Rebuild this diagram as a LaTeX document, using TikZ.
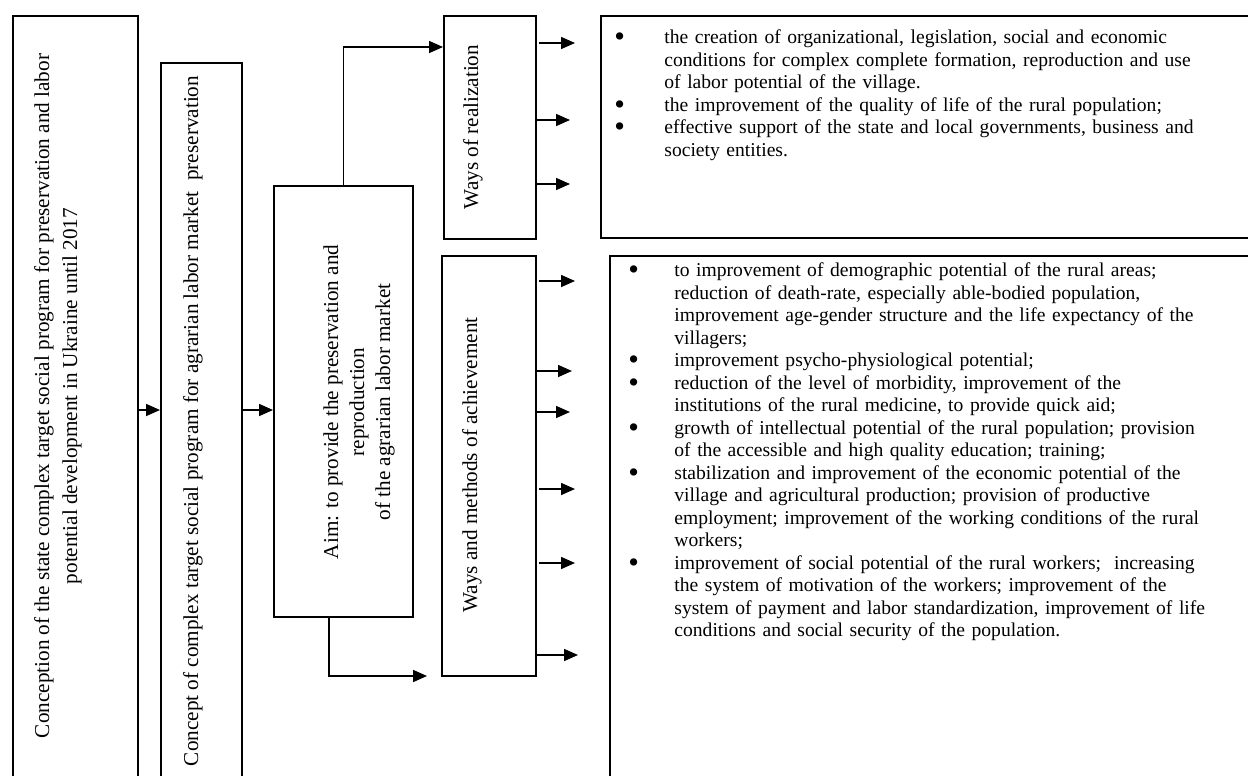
\documentclass[tikz,border=0pt]{standalone}
\usepackage{fontspec}
\setmainfont{Liberation Serif}
\usetikzlibrary{arrows.meta}
\newcommand{\bulitem}[1]{\par\hangindent=#1\hangafter=1\noindent\makebox[#1][l]{\smash{\raisebox{-0.3ex}{\scalebox{1.55}{\textbullet}}}}}
\newcommand{\nl}{\hfil\break}
\tikzset{
  box/.style={draw, line width=1.1pt, inner sep=0pt, anchor=north west},
  thinbox/.style={draw, line width=0.8pt, inner sep=0pt, anchor=north west},
  lbl/.style={rotate=90, inner sep=0pt, align=center, font=\fontsize{10.6pt}{13pt}\selectfont},
  rtext/.style={inner sep=0pt, anchor=north west, text width=330pt, align=left,
    font=\fontsize{9.8pt}{11.25pt}\selectfont},
  arr/.style={line width=0.8pt, -{Triangle[length=7pt,width=6pt]}}
}
\begin{document}
\begin{tikzpicture}[x=0.5pt, y=-0.5pt]
\useasboundingbox (0,0) rectangle (1248,776);
\clip (0,0) rectangle (1248,776);
% boxes
\node[box, minimum width=62.5pt, minimum height=387.5pt] (b1) at (12,15) {};
\node[box, minimum width=40.5pt, minimum height=364pt] (b2) at (160,62) {};
\node[thinbox, minimum width=69.5pt, minimum height=215.5pt] (aim) at (273,185) {};
\node[thinbox, minimum width=46pt, minimum height=111.5pt] (real) at (443,15) {};
\node[box, minimum width=47pt, minimum height=210pt] (meth) at (441,255) {};
\node[thinbox, minimum width=330pt, minimum height=111pt] (tr) at (600,15) {};
\node[box, minimum width=325.5pt, minimum height=267.5pt] (br) at (609,255) {};
% vertical labels
\node[lbl, font=\fontsize{10.6pt}{14pt}\selectfont] (l1) at (58,396) {Conception of the state complex target social program for preservation and labor\\potential development in Ukraine until 2017};
\node[lbl] (l2) at (193,421) {Concept of complex target social program for agrarian labor market\ \ preservation};
\node[lbl] (l3) at (359,402) {Aim: to provide the preservation and\\reproduction\\of the agrarian labor market};
\node[lbl] (l4) at (473,127) {Ways of realization};
\node[lbl] (l5) at (472,465) {Ways and methods of achievement};
% right texts
\node[rtext] (t1) at (614,21) {%
\bulitem{25pt}the creation of organizational, legislation, social and economic\nl conditions for complex complete formation, reproduction and use\nl of labor potential of the village.
\bulitem{25pt}the improvement of the quality of life of the rural population;
\bulitem{25pt}effective support of the state and local governments, business and\nl society entities.\par};
\node[rtext] (t2) at (628,254) {%
\bulitem{23pt}to improvement of demographic potential of the rural areas;\nl reduction of death-rate, especially able-bodied population,\nl improvement age-gender structure and the life expectancy of the\nl villagers;
\bulitem{23pt}improvement psycho-physiological potential;
\bulitem{23pt}reduction of the level of morbidity, improvement of the\nl institutions of the rural medicine, to provide quick aid;
\bulitem{23pt}growth of intellectual potential of the rural population; provision\nl of the accessible and high quality education; training;
\bulitem{23pt}stabilization and improvement of the economic potential of the\nl village and agricultural production; provision of productive\nl employment; improvement of the working conditions of the rural\nl workers;
\bulitem{23pt}improvement of social potential of the rural workers;\ \ increasing\nl the system of motivation of the workers; improvement of the\nl system of payment and labor standardization, improvement of life\nl conditions and social security of the population.\par};
% main connectors
\coordinate (ya) at (0,410);
\draw[arr] (b1.east |- ya) -- (b2.west |- ya);
\draw[arr] (b2.east |- ya) -- (aim.west |- ya);
\coordinate (yt) at (0,47);
\draw[arr] (aim.north) |- (real.west |- yt);
\coordinate (bs) at (329,0);
\coordinate (be) at (427,676);
\draw[arr] (aim.south -| bs) |- (be);
% arrows from "Ways of realization"
\coordinate (r1s) at (539,43);  \coordinate (r1e) at (575,43);
\coordinate (r2e) at (570,120);
\coordinate (r3e) at (570,184);
\draw[arr] (r1s) -- (r1e);
\draw[arr] (real.east |- r2e) -- (r2e);
\draw[arr] (real.east |- r3e) -- (r3e);
% arrows from "Ways and methods of achievement"
\coordinate (m1s) at (539,281); \coordinate (m1e) at (575,281);
\coordinate (m2e) at (572,371);
\coordinate (m3e) at (570,412);
\coordinate (m4s) at (539,489); \coordinate (m4e) at (575,489);
\coordinate (m5s) at (539,563); \coordinate (m5e) at (575,563);
\coordinate (m6e) at (578,655);
\draw[arr] (m1s) -- (m1e);
\draw[arr] (meth.east |- m2e) -- (m2e);
\draw[arr] (meth.east |- m3e) -- (m3e);
\draw[arr] (m4s) -- (m4e);
\draw[arr] (m5s) -- (m5e);
\draw[arr] (meth.east |- m6e) -- (m6e);
\end{tikzpicture}
\end{document}
